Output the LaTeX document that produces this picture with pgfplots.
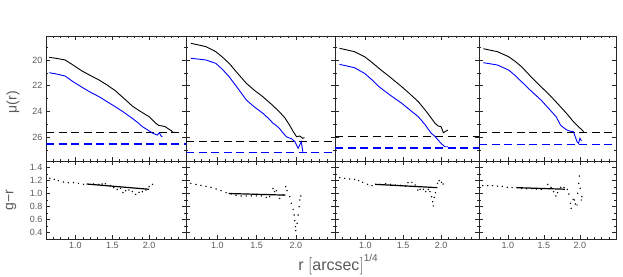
\documentclass[border=0pt]{standalone}
\usepackage{pgfplots}
\pgfplotsset{compat=1.18}
\usepackage{fontspec}
\setmainfont{Liberation Sans}
\definecolor{pblue}{RGB}{0,0,255}
\definecolor{txtgray}{RGB}{90,90,90}
\pgfplotsset{
  panel/.style={scale only axis, xmin=0.6, xmax=2.5,
    axis line style={black!85, line width=0.6pt},
    tick style={black!85, line width=0.5pt},
    major tick length=4pt, minor tick length=2pt,
    tick align=inside, xtick pos=both, ytick pos=both,
    xtick={1.0,1.5,2.0},
    minor xtick={0.6,0.7,0.8,0.9,1.1,1.2,1.3,1.4,1.6,1.7,1.8,1.9,2.1,2.2,2.3,2.4},
    tick label style={font=\fontsize{9}{9}\selectfont, text=txtgray},
    /pgf/number format/assume math mode=true,
    clip=true},
  toppanel/.style={panel, height=125pt, y dir=reverse, ymin=18.13, ymax=27.87,
    ytick={20,22,24,26}, minor ytick={19,21,23,25,27},
    xticklabels={}},
  botpanel/.style={panel, height=78pt, ymin=0.3, ymax=1.5,
    ytick={0.4,0.6,0.8,1.0,1.2,1.4}, minor ytick={0.5,0.7,0.9,1.1,1.3},
    xticklabel style={/pgf/number format/.cd, fixed, fixed zerofill, precision=1},
    yticklabel style={/pgf/number format/.cd, fixed, fixed zerofill, precision=1}},
  prof/.style={line width=0.9pt},
  bdash/.style={color=pblue, line width=1.4pt, dash pattern=on 8pt off 4.5pt},
  kdash/.style={color=black, line width=1.4pt, dash pattern=on 8pt off 4.5pt},
  dots/.style={only marks, mark=*, mark size=0.45pt, black},
  fit/.style={black, line width=1.2pt},
}
\begin{document}
\begin{tikzpicture}
\path[use as bounding box] (0,0) rectangle (623pt,-276pt);

% ---------------- column 1 ----------------
\begin{axis}[toppanel, at={(46pt,-36pt)}, anchor=north west, width=140pt,
  ylabel={μ(r)}, ylabel style={at={(axis description cs:-0.235,0.47)}, anchor=center, font=\fontsize{14}{14}\selectfont, text=txtgray}]
\addplot[bdash] coordinates {(0.6,26.54) (2.5,26.54)};
\addplot[kdash] coordinates {(0.6,25.64) (2.5,25.64)};
\addplot[prof, black] coordinates {(0.644,19.79) (0.75,19.88) (0.86,20.0) (0.97,20.4) (1.09,20.86) (1.2,21.2) (1.32,21.56) (1.43,21.95) (1.54,22.39) (1.65,22.95) (1.77,23.58) (1.88,24.0) (2.0,24.42) (2.05,24.7) (2.09,24.93) (2.13,25.1) (2.18,25.14) (2.22,25.2) (2.27,25.4) (2.3,25.5) (2.32,25.64) (2.35,25.64)};
\addplot[prof, pblue] coordinates {(0.644,20.99) (0.75,21.1) (0.86,21.25) (0.97,21.7) (1.09,22.13) (1.2,22.5) (1.32,22.86) (1.43,23.25) (1.54,23.64) (1.65,24.05) (1.77,24.54) (1.84,24.85) (1.91,25.2) (1.98,25.45) (2.05,25.71) (2.11,25.85) (2.14,25.67) (2.16,25.9) (2.18,26.0)};
\end{axis}
\begin{axis}[botpanel, at={(46pt,-161pt)}, anchor=north west, width=140pt,
  ylabel={g−r}, ylabel style={at={(axis description cs:-0.25,0.5)}, anchor=center, font=\fontsize{14}{14}\selectfont, text=txtgray}]
\addplot[dots] coordinates {(0.653,1.234) (0.712,1.218) (0.767,1.197) (0.836,1.177) (0.904,1.166) (0.973,1.166) (1.041,1.157) (1.11,1.141) (1.178,1.141) (1.247,1.146) (1.315,1.141) (1.361,1.146) (1.406,1.151) (1.475,1.121) (1.52,1.09) (1.566,1.064) (1.612,1.08) (1.644,1.013) (1.68,1.043) (1.726,1.054) (1.771,1.028) (1.817,0.987) (1.863,1.018) (1.908,1.028) (1.955,1.054) (2.0,1.105) (2.045,1.141)};
\addplot[fit] coordinates {(1.15,1.146) (2.0,1.065)};
\end{axis}

% ---------------- column 2 ----------------
\begin{axis}[toppanel, at={(186pt,-36pt)}, anchor=north west, width=149pt, yticklabels={}]
\addplot[bdash] coordinates {(0.6,27.22) (2.5,27.22)};
\addplot[kdash] coordinates {(0.6,26.37) (2.5,26.37)};
\addplot[prof, black] coordinates {(0.663,18.70) (0.76,18.83) (0.855,18.96) (0.98,19.35) (1.06,19.75) (1.15,20.26) (1.26,21.05) (1.37,21.82) (1.47,22.35) (1.58,22.86) (1.69,23.45) (1.79,24.03) (1.86,24.5) (1.92,25.07) (1.97,25.6) (2.01,25.98) (2.05,25.92) (2.09,26.1) (2.11,26.05)};
\addplot[prof, pblue] coordinates {(0.663,19.87) (0.76,19.93) (0.855,20.0) (0.98,20.26) (1.06,20.7) (1.15,21.3) (1.26,22.2) (1.37,23.12) (1.47,23.65) (1.58,24.15) (1.66,24.6) (1.71,24.93) (1.75,25.1) (1.79,25.32) (1.84,25.7) (1.88,25.98) (1.95,26.15) (1.99,26.37) (2.03,26.88) (2.07,26.37) (2.09,27.15)};
\end{axis}
\begin{axis}[botpanel, at={(186pt,-161pt)}, anchor=north west, width=149pt, yticklabels={}]
\addplot[dots] coordinates {(0.662,1.156) (0.727,1.141) (0.791,1.126) (0.855,1.110) (0.919,1.095) (0.983,1.069) (1.047,1.044) (1.111,1.013) (1.175,0.992) (1.239,0.972) (1.303,0.962) (1.368,0.962) (1.432,0.962) (1.496,0.962) (1.560,0.962) (1.624,0.941) (1.667,0.951) (1.709,1.08) (1.731,1.028) (1.752,1.044) (1.795,0.926) (1.838,0.977) (1.872,1.105) (1.889,1.044) (1.923,0.951) (1.944,0.849) (1.966,0.756) (1.979,0.669) (1.987,0.582) (1.996,0.49) (2.0,0.428) (2.017,0.541) (2.03,0.669) (2.043,0.797) (2.051,0.9) (2.064,0.962)};
\addplot[fit] coordinates {(1.145,1.0) (1.87,0.975)};
\end{axis}

% ---------------- column 3 ----------------
\begin{axis}[toppanel, at={(335pt,-36pt)}, anchor=north west, width=144pt, yticklabels={}]
\addplot[bdash] coordinates {(0.6,26.86) (2.5,26.86)};
\addplot[kdash] coordinates {(0.6,25.98) (2.5,25.98)};
\addplot[prof, black] coordinates {(0.66,19.09) (0.76,19.22) (0.857,19.35) (0.99,19.74) (1.08,20.15) (1.18,20.65) (1.33,21.35) (1.48,22.08) (1.59,22.65) (1.70,23.25) (1.81,24.05) (1.92,24.93) (1.96,25.14) (2.0,25.2) (2.03,25.67) (2.06,25.55) (2.09,25.46)};
\addplot[prof, pblue] coordinates {(0.66,20.34) (0.76,20.47) (0.857,20.6) (0.99,21.04) (1.08,21.5) (1.18,22.08) (1.33,22.75) (1.48,23.37) (1.59,23.9) (1.70,24.42) (1.79,25.05) (1.87,25.71) (1.92,25.95) (1.96,26.24) (2.0,26.5) (2.05,26.76) (2.09,26.76)};
\end{axis}
\begin{axis}[botpanel, at={(335pt,-161pt)}, anchor=north west, width=144pt, yticklabels={}]
\addplot[dots] coordinates {(0.662,1.244) (0.727,1.233) (0.792,1.223) (0.857,1.218) (0.913,1.197) (0.965,1.172) (1.03,1.141) (1.087,1.121) (1.139,1.141) (1.203,1.141) (1.268,1.151) (1.333,1.141) (1.398,1.131) (1.463,1.126) (1.528,1.115) (1.563,1.167) (1.615,1.172) (1.658,1.131) (1.693,1.054) (1.723,1.064) (1.766,1.064) (1.797,1.028) (1.831,1.064) (1.853,1.028) (1.875,0.951) (1.888,0.874) (1.896,0.808) (1.909,0.941) (1.926,1.013) (1.952,1.156) (1.974,1.197) (2.004,1.172) (2.026,1.146)};
\addplot[fit] coordinates {(1.13,1.141) (1.95,1.09)};
\end{axis}

% ---------------- column 4 ----------------
\begin{axis}[toppanel, at={(479pt,-36pt)}, anchor=north west, width=137pt, yticklabels={}]
\addplot[bdash] coordinates {(0.6,26.57) (2.5,26.57)};
\addplot[kdash] coordinates {(0.6,25.67) (2.5,25.67)};
\addplot[prof, black] coordinates {(0.66,19.12) (0.76,19.24) (0.855,19.35) (1.01,19.74) (1.10,20.1) (1.19,20.52) (1.32,21.3) (1.46,22.08) (1.60,22.85) (1.73,23.64) (1.82,24.2) (1.91,24.81) (1.97,25.15) (2.03,25.46) (2.05,25.59)};
\addplot[prof, pblue] coordinates {(0.66,20.21) (0.76,20.3) (0.855,20.39) (1.01,20.78) (1.10,21.2) (1.19,21.69) (1.32,22.4) (1.46,23.12) (1.57,23.8) (1.67,24.42) (1.73,25.07) (1.78,25.3) (1.82,25.46) (1.87,25.55) (1.91,25.59) (1.96,26.37) (1.98,26.5) (2.0,26.1) (2.02,26.3)};
\end{axis}
\begin{axis}[botpanel, at={(479pt,-161pt)}, anchor=north west, width=137pt, yticklabels={}]
\addplot[dots] coordinates {(0.653,1.121) (0.721,1.121) (0.788,1.121) (0.856,1.115) (0.923,1.110) (0.991,1.095) (1.059,1.09) (1.126,1.09) (1.194,1.079) (1.261,1.074) (1.329,1.074) (1.396,1.069) (1.464,1.064) (1.554,1.141) (1.599,1.095) (1.635,1.028) (1.667,0.962) (1.689,1.013) (1.734,1.095) (1.779,1.095) (1.824,1.064) (1.847,0.992) (1.869,0.849) (1.878,0.772) (1.905,0.910) (1.923,0.9) (1.937,0.838) (1.959,0.823) (1.968,1.003) (1.982,1.156) (1.991,1.269) (2.005,1.079) (2.018,0.9) (2.027,0.951)};
\addplot[fit] coordinates {(1.126,1.09) (1.79,1.066)};
\end{axis}

\node[text=txtgray, font=\fontsize{16}{16}\selectfont, anchor=base] at (338pt,-270pt) {r $\bigl[$arcsec$\bigr]$\raisebox{0.55em}{\fontsize{10}{10}\selectfont 1/4}};
\end{tikzpicture}
\end{document}
